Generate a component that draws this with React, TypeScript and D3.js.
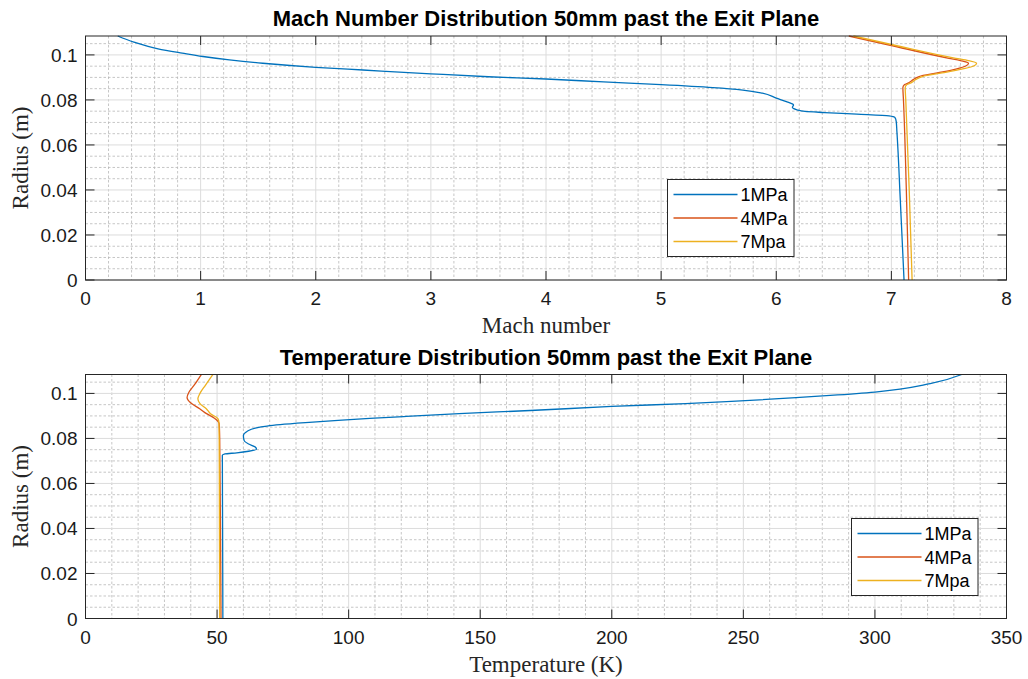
import React from 'react';
import * as d3 from 'd3';

type Pt = [number, number]; // [radius (m), value]

const seriesNames = ['1MPa', '4MPa', '7Mpa'];
const seriesColors = ['#0072BD', '#D95319', '#EDB120'];

const radiusTicks = [0, 0.02, 0.04, 0.06, 0.08, 0.1];
const machTicks = [0, 1, 2, 3, 4, 5, 6, 7, 8];
const tempTicks = [0, 50, 100, 150, 200, 250, 300, 350];

// Mach number vs radius
const mach1MPa: Pt[] = [
  [0, 7.11], [0.035, 7.078], [0.066, 7.048], [0.0705, 7.042], [0.0722, 7.03],
  [0.0729, 6.98], [0.0737, 6.7], [0.0744, 6.42], [0.0749, 6.25], [0.0756, 6.18],
  [0.0767, 6.14], [0.0778, 6.15], [0.079, 6.1], [0.0808, 6.0], [0.083, 5.88],
  [0.0844, 5.71], [0.0855, 5.45], [0.0868, 5.0], [0.088, 4.5], [0.0893, 4.0],
  [0.0903, 3.5], [0.0916, 3.0], [0.0933, 2.41], [0.0945, 2.0], [0.0963, 1.54],
  [0.0978, 1.25], [0.0993, 1.02], [0.1008, 0.84], [0.1027, 0.63], [0.1057, 0.42],
  [0.1084, 0.28],
];
const mach4MPa: Pt[] = [
  [0, 7.15], [0.04, 7.13], [0.08, 7.105], [0.0855, 7.1], [0.0868, 7.115],
  [0.0876, 7.15], [0.089, 7.19], [0.0904, 7.24], [0.092, 7.4], [0.0937, 7.56],
  [0.0952, 7.65], [0.0963, 7.67], [0.0975, 7.6], [0.0985, 7.5], [0.1044, 6.98],
  [0.1084, 6.63],
];
const mach7MPa: Pt[] = [
  [0, 7.18], [0.04, 7.155], [0.08, 7.125], [0.0855, 7.12], [0.0868, 7.135],
  [0.0876, 7.17], [0.089, 7.21], [0.0904, 7.27], [0.092, 7.44], [0.0937, 7.61],
  [0.0952, 7.72], [0.0963, 7.74], [0.0975, 7.67], [0.0985, 7.56], [0.1044, 7.02],
  [0.1084, 6.67],
];

// Temperature (K) vs radius
const temp1MPa: Pt[] = [
  [0, 52.2], [0.04, 52.1], [0.0725, 52.0], [0.0731, 53], [0.0736, 57.5],
  [0.0743, 62], [0.0752, 65], [0.0762, 64.5], [0.0775, 62], [0.079, 60.3],
  [0.0812, 60], [0.0832, 61.5], [0.0846, 64.5], [0.0855, 69], [0.0861, 74],
  [0.0871, 85], [0.088, 96], [0.0889, 108], [0.0898, 122], [0.091, 142],
  [0.0924, 169], [0.0942, 200], [0.0955, 228], [0.0981, 270], [0.0991, 283],
  [0.1006, 300], [0.1043, 321], [0.1084, 333],
];
const temp4MPa: Pt[] = [
  [0, 51.5], [0.04, 51.3], [0.08, 51], [0.0865, 50.8], [0.0875, 50.4],
  [0.089, 49], [0.091, 46], [0.0932, 43.4], [0.0955, 40.3], [0.0982, 38.6],
  [0.1005, 39.3], [0.104, 41.5], [0.1084, 44],
];
const temp7MPa: Pt[] = [
  [0, 51], [0.04, 50.9], [0.08, 50.8], [0.0872, 50.7], [0.0888, 50.3],
  [0.091, 47.5], [0.0932, 45.9], [0.0955, 43.5], [0.0976, 42.7], [0.1, 43.5],
  [0.1035, 45.5], [0.1084, 48.4],
];

const radiusMax = 0.1084;

const sans = '"Liberation Sans", Arial, Helvetica, sans-serif';
const serif = '"Liberation Serif", "Times New Roman", serif';

interface PanelProps {
  top: number;
  title: string;
  xLabel: string;
  xTicks: number[];
  xMinorStep: number;
  series: Pt[][];
  legendX: number;
  legendY: number;
}

const Panel = ({ top, title, xLabel, xTicks, xMinorStep, series, legendX, legendY }: PanelProps) => {
  const left = 85.5;
  const right = 1006.5;
  const bottom = top + 244;
  const xDomain: [number, number] = [xTicks[0], xTicks[xTicks.length - 1]];

  const x = d3.scaleLinear().domain(xDomain).range([left, right]);
  const y = d3.scaleLinear().domain([0, radiusMax]).range([bottom, top]);

  const xMinor = d3.range(xDomain[0], xDomain[1] + 1e-9, xMinorStep)
    .filter(v => !xTicks.some(t => Math.abs(t - v) < 1e-9));
  const yMinor = d3.range(0, radiusMax, 0.005)
    .filter(v => !radiusTicks.some(t => Math.abs(t - v) < 1e-9));

  const line = d3.line<Pt>()
    .x(d => x(d[1]))
    .y(d => y(d[0]))
    .curve(d3.curveMonotoneY);

  const tickLen = 9;
  const axisColor = '#262626';

  return (
    <g>
      <rect x={left} y={top} width={right - left} height={bottom - top} fill="#fff" />
      {/* minor grid */}
      {xMinor.map(v => (
        <line key={'xm' + v} x1={x(v)} x2={x(v)} y1={top} y2={bottom}
          stroke="#b8b8b8" strokeWidth={0.8} strokeDasharray="2.5,2" />
      ))}
      {yMinor.map(v => (
        <line key={'ym' + v} x1={left} x2={right} y1={y(v)} y2={y(v)}
          stroke="#b8b8b8" strokeWidth={0.8} strokeDasharray="2.5,2" />
      ))}
      {/* major grid */}
      {xTicks.map(v => (
        <line key={'xg' + v} x1={x(v)} x2={x(v)} y1={top} y2={bottom} stroke="#dcdcdc" strokeWidth={1} />
      ))}
      {radiusTicks.map(v => (
        <line key={'yg' + v} x1={left} x2={right} y1={y(v)} y2={y(v)} stroke="#dcdcdc" strokeWidth={1} />
      ))}

      {/* curves */}
      <g fill="none" strokeWidth={1.3}>
        {series.map((s, i) => (
          <path key={i} d={line(s) ?? ''} stroke={seriesColors[i]} />
        ))}
      </g>

      {/* box and ticks */}
      <rect x={left} y={top} width={right - left} height={bottom - top} fill="none" stroke={axisColor} strokeWidth={1} />
      {xTicks.map(v => (
        <g key={'xt' + v} stroke={axisColor}>
          <line x1={x(v)} x2={x(v)} y1={bottom} y2={bottom - tickLen} />
          <line x1={x(v)} x2={x(v)} y1={top} y2={top + tickLen} />
        </g>
      ))}
      {radiusTicks.map(v => (
        <g key={'yt' + v} stroke={axisColor}>
          <line x1={left} x2={left + tickLen} y1={y(v)} y2={y(v)} />
          <line x1={right} x2={right - tickLen} y1={y(v)} y2={y(v)} />
        </g>
      ))}

      {/* tick labels */}
      <g fontFamily={sans} fontSize={19} fill="#1a1a1a">
        {xTicks.map(v => (
          <text key={'xl' + v} x={x(v)} y={bottom + 25} textAnchor="middle">{v}</text>
        ))}
        {radiusTicks.map(v => (
          <text key={'yl' + v} x={left - 8} y={y(v) + 7} textAnchor="end">{v}</text>
        ))}
      </g>

      {/* labels */}
      <text x={(left + right) / 2} y={top - 10} textAnchor="middle" fontFamily={sans}
        fontWeight="bold" fontSize={22} fill="#000">{title}</text>
      <text x={(left + right) / 2} y={bottom + 53} textAnchor="middle" fontFamily={serif}
        fontSize={23} fill="#262626">{xLabel}</text>
      <text transform={`translate(28,${(top + bottom) / 2}) rotate(-90)`} textAnchor="middle"
        fontFamily={serif} fontSize={23} fill="#262626">Radius (m)</text>

      {/* legend */}
      <g transform={`translate(${legendX},${legendY})`}>
        <rect x={0} y={0} width={126.5} height={77} fill="#fff" stroke={axisColor} strokeWidth={1} />
        {seriesNames.map((name, i) => (
          <g key={name} transform={`translate(0,${15 + i * 23.5})`}>
            <line x1={6} x2={70} y1={0} y2={0} stroke={seriesColors[i]} strokeWidth={1.3} />
            <text x={73} y={6.5} fontFamily={sans} fontSize={18} fill="#000">{name}</text>
          </g>
        ))}
      </g>
    </g>
  );
};

const App = () => (
  <svg width={1028} height={679} style={{ position: 'absolute', left: 0, top: 0, background: '#fff' }}>
    <rect width={1028} height={679} fill="#fff" />
    <Panel
      top={36}
      title="Mach Number Distribution 50mm past the Exit Plane"
      xLabel="Mach number"
      xTicks={machTicks}
      xMinorStep={0.2}
      series={[mach1MPa, mach4MPa, mach7MPa]}
      legendX={667.5}
      legendY={179.5}
    />
    <Panel
      top={374.5}
      title="Temperature Distribution 50mm past the Exit Plane"
      xLabel="Temperature (K)"
      xTicks={tempTicks}
      xMinorStep={10}
      series={[temp1MPa, temp4MPa, temp7MPa]}
      legendX={851.5}
      legendY={518.5}
    />
  </svg>
);

export default App;
